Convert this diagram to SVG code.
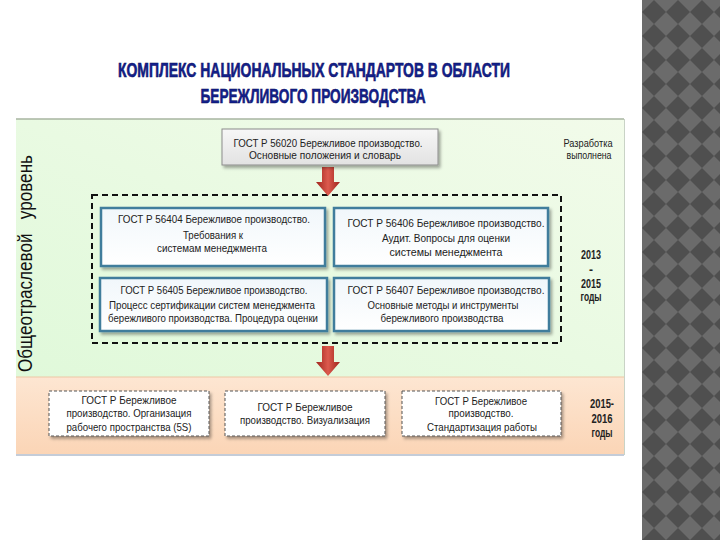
<svg xmlns="http://www.w3.org/2000/svg" width="720" height="540" viewBox="0 0 720 540">
<defs>
<pattern id="diam" x="642" y="0" width="24" height="24" patternUnits="userSpaceOnUse">
<rect width="24" height="24" fill="#6b6b6b"/>
<polygon points="12,0 24,12 12,24 0,12" fill="#4f4f4f"/>
</pattern>
<linearGradient id="green" x1="0" y1="1" x2="1" y2="0">
<stop offset="0" stop-color="#e0f9da"/>
<stop offset="1" stop-color="#f2fbea"/>
</linearGradient>
<linearGradient id="orange" x1="0" y1="0" x2="0" y2="1">
<stop offset="0" stop-color="#fde6d2"/>
<stop offset="1" stop-color="#fbd5b6"/>
</linearGradient>
<linearGradient id="grayBox" x1="0" y1="0" x2="0" y2="1">
<stop offset="0" stop-color="#f7f7f7"/>
<stop offset="1" stop-color="#e2e2e2"/>
</linearGradient>
<linearGradient id="blueFill" x1="0" y1="0" x2="0" y2="1">
<stop offset="0" stop-color="#f1f7fb"/>
<stop offset="1" stop-color="#ffffff"/>
</linearGradient>
<linearGradient id="red" x1="0" y1="0" x2="1" y2="0">
<stop offset="0" stop-color="#a0241c"/>
<stop offset="0.5" stop-color="#dc5a4e"/>
<stop offset="1" stop-color="#a0241c"/>
</linearGradient>
<filter id="sh" x="-10%" y="-10%" width="125%" height="135%">
<feDropShadow dx="2" dy="2.5" stdDeviation="1.5" flood-color="#000" flood-opacity="0.35"/>
</filter>
</defs>
<style>
.t{font-family:"Liberation Sans",Arial,sans-serif;font-size:11px;fill:#222;text-anchor:middle}
.yr{font-family:"Liberation Sans",Arial,sans-serif;font-size:12px;font-weight:bold;fill:#222;text-anchor:middle}
.lbl{font-family:"Liberation Sans",Arial,sans-serif;font-size:11px;fill:#222;text-anchor:middle}
.title{font-family:"Liberation Sans",Arial,sans-serif;font-size:21px;font-weight:bold;fill:#13208c;stroke:#0a1060;stroke-width:0.6;text-anchor:middle}
.bbox{fill:url(#blueFill);stroke:#3f7d9c;stroke-width:2.5}
.dbox{fill:#ffffff;stroke:#555;stroke-width:1;stroke-dasharray:3 2}
</style>
<rect width="720" height="540" fill="#ffffff"/>
<rect x="642" y="0" width="78" height="540" fill="url(#diam)"/>

<g id="title">
<text class="title" x="314" y="77" textLength="392" lengthAdjust="spacingAndGlyphs">КОМПЛЕКС НАЦИОНАЛЬНЫХ СТАНДАРТОВ В ОБЛАСТИ</text>
<text class="title" x="313" y="103" textLength="225" lengthAdjust="spacingAndGlyphs">БЕРЕЖЛИВОГО ПРОИЗВОДСТВА</text>
</g>

<g id="panel">
<rect x="16" y="119" width="608" height="258" fill="url(#green)"/>
<rect x="16" y="377" width="608" height="77" fill="url(#orange)"/>
<line x1="16" y1="119" x2="624" y2="119" stroke="#a7b5a0" stroke-width="1.5"/>
<line x1="16" y1="377" x2="624" y2="377" stroke="#eec6a4" stroke-width="1"/>
<line x1="624.5" y1="119" x2="624.5" y2="455" stroke="#c9d3c6" stroke-width="1"/>
<line x1="16" y1="455" x2="624" y2="455" stroke="#c4ccd8" stroke-width="2"/>
<text x="32" y="372" transform="rotate(-90 32 372)" style="font-family:'Liberation Sans',Arial,sans-serif;font-size:20px;fill:#111;white-space:pre" textLength="217" lengthAdjust="spacingAndGlyphs">Общеотраслевой   уровень</text>
</g>

<g id="connectors">
<rect x="92" y="195" width="469" height="148" fill="none" stroke="#111" stroke-width="2" stroke-dasharray="6 4"/>
<polygon points="322,167 334,167 334,182 340,182 328,196 316,182 322,182" fill="url(#red)"/>
<polygon points="322,346 334,346 334,362 340,362 328,376 316,362 322,362" fill="url(#red)"/>
</g>

<g id="n-56020">
<rect x="222" y="129" width="216" height="36" fill="url(#grayBox)" stroke="#8c8c8c" stroke-width="1" filter="url(#sh)"/>
<text class="t" x="328" y="147" textLength="189" lengthAdjust="spacingAndGlyphs">ГОСТ Р 56020 Бережливое производство.</text>
<text class="t" x="325" y="159" textLength="152" lengthAdjust="spacingAndGlyphs">Основные положения и словарь</text>
</g>

<g id="n-56404">
<rect class="bbox" x="101" y="208" width="224" height="58" filter="url(#sh)"/>
<text class="t" x="214" y="223" textLength="192" lengthAdjust="spacingAndGlyphs">ГОСТ Р 56404 Бережливое производство.</text>
<text class="t" x="213" y="239" textLength="60" lengthAdjust="spacingAndGlyphs">Требования к</text>
<text class="t" x="212" y="252" textLength="110" lengthAdjust="spacingAndGlyphs">системам менеджмента</text>
</g>

<g id="n-56406">
<rect class="bbox" x="334" y="208" width="214" height="58" filter="url(#sh)"/>
<text class="t" x="446" y="227" textLength="197" lengthAdjust="spacingAndGlyphs">ГОСТ Р 56406 Бережливое производство.</text>
<text class="t" x="446" y="242" textLength="128" lengthAdjust="spacingAndGlyphs">Аудит. Вопросы для оценки</text>
<text class="t" x="446" y="256" textLength="113" lengthAdjust="spacingAndGlyphs">системы менеджмента</text>
</g>

<g id="n-56405">
<rect class="bbox" x="100" y="278" width="227" height="53" filter="url(#sh)"/>
<text class="t" x="214" y="294" textLength="187" lengthAdjust="spacingAndGlyphs">ГОСТ Р 56405 Бережливое производство.</text>
<text class="t" x="212" y="309" textLength="206" lengthAdjust="spacingAndGlyphs">Процесс сертификации систем менеджмента</text>
<text class="t" x="213" y="322" textLength="210" lengthAdjust="spacingAndGlyphs">бережливого производства. Процедура оценки</text>
</g>

<g id="n-56407">
<rect class="bbox" x="334" y="278" width="215" height="53" filter="url(#sh)"/>
<text class="t" x="446" y="294" textLength="197" lengthAdjust="spacingAndGlyphs">ГОСТ Р 56407 Бережливое производство.</text>
<text class="t" x="443" y="309" textLength="151" lengthAdjust="spacingAndGlyphs">Основные методы и инструменты</text>
<text class="t" x="442" y="322" textLength="123" lengthAdjust="spacingAndGlyphs">бережливого производства</text>
</g>

<g id="n-5s">
<rect class="dbox" x="49" y="391" width="160" height="45" filter="url(#sh)"/>
<text class="t" x="129" y="404" textLength="95" lengthAdjust="spacingAndGlyphs">ГОСТ Р Бережливое</text>
<text class="t" x="129" y="417" textLength="125" lengthAdjust="spacingAndGlyphs">производство. Организация</text>
<text class="t" x="129" y="431" textLength="125" lengthAdjust="spacingAndGlyphs">рабочего пространства (5S)</text>
</g>

<g id="n-vis">
<rect class="dbox" x="225" y="391" width="160" height="45" filter="url(#sh)"/>
<text class="t" x="305" y="411" textLength="95" lengthAdjust="spacingAndGlyphs">ГОСТ Р Бережливое</text>
<text class="t" x="305" y="424" textLength="130" lengthAdjust="spacingAndGlyphs">производство. Визуализация</text>
</g>

<g id="n-std">
<rect class="dbox" x="402" y="391" width="159" height="45" filter="url(#sh)"/>
<text class="t" x="481" y="405" textLength="92" lengthAdjust="spacingAndGlyphs">ГОСТ Р Бережливое</text>
<text class="t" x="481" y="417" textLength="65" lengthAdjust="spacingAndGlyphs">производство.</text>
<text class="t" x="482" y="431" textLength="110" lengthAdjust="spacingAndGlyphs">Стандартизация работы</text>
</g>

<g id="labels">
<text class="lbl" x="588" y="147" textLength="49" lengthAdjust="spacingAndGlyphs">Разработка</text>
<text class="lbl" x="589" y="159" textLength="45" lengthAdjust="spacingAndGlyphs">выполнена</text>
<text class="yr" x="591" y="259" textLength="20" lengthAdjust="spacingAndGlyphs">2013</text>
<text class="yr" x="591" y="274">-</text>
<text class="yr" x="591" y="288" textLength="20" lengthAdjust="spacingAndGlyphs">2015</text>
<text class="yr" x="591" y="301" textLength="21" lengthAdjust="spacingAndGlyphs">годы</text>
<text class="yr" x="602" y="408" textLength="24" lengthAdjust="spacingAndGlyphs">2015-</text>
<text class="yr" x="602" y="423" textLength="21" lengthAdjust="spacingAndGlyphs">2016</text>
<text class="yr" x="602" y="437" textLength="21" lengthAdjust="spacingAndGlyphs">годы</text>
</g>
</svg>
